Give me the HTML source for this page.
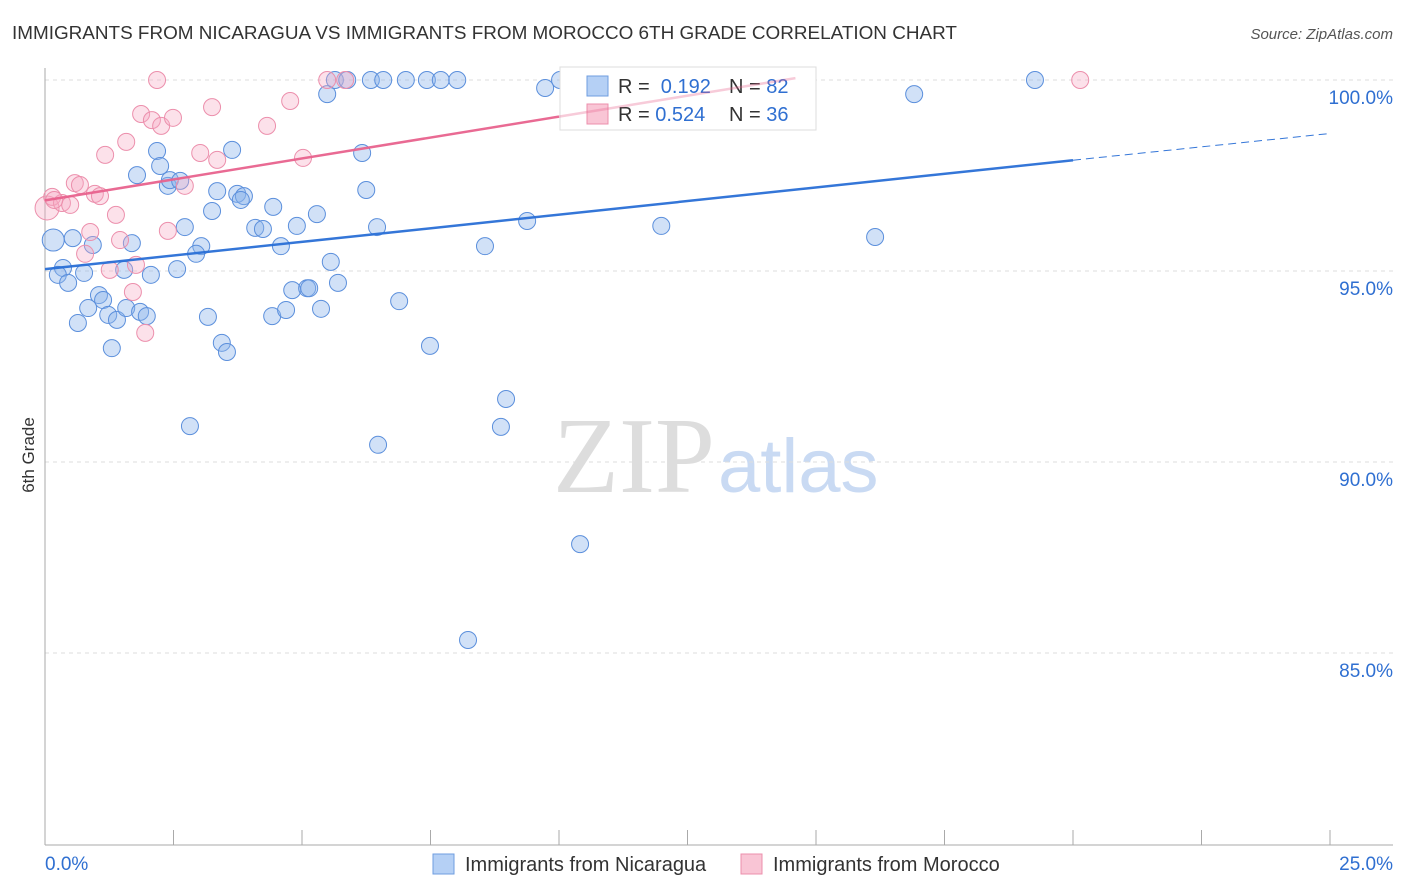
<!DOCTYPE html>
<html><head><meta charset="utf-8"><style>
body{margin:0;background:#fff;font-family:"Liberation Sans",sans-serif}
svg{display:block}
</style></head><body>
<svg id="chart" width="1406" height="892" xmlns="http://www.w3.org/2000/svg">
<text x="12" y="39" font-size="18.9" fill="#333">IMMIGRANTS FROM NICARAGUA VS IMMIGRANTS FROM MOROCCO 6TH GRADE CORRELATION CHART</text>
<text x="1393" y="39" font-size="15" fill="#555" font-style="italic" text-anchor="end">Source: ZipAtlas.com</text>
<text x="553" y="492" font-size="108" fill="#ddd" font-family="Liberation Serif,serif">ZIP</text>
<text x="718" y="492" font-size="76" fill="#c9daf3">atlas</text>
<g id="grid"></g><g id="axes"></g><g id="pts"></g>
<g>
<rect x="560" y="67" width="256" height="63" fill="#fff" stroke="#ddd"/>
<rect x="587" y="76" width="21" height="20" fill="#b5d0f5" stroke="#6f9ee0"/>
<rect x="587" y="104" width="21" height="20" fill="#f9c5d5" stroke="#ec8fac"/>
<text x="618" y="93" font-size="20" fill="#333">R = <tspan fill="#2f6fd1">&#160;0.192</tspan></text>
<text x="729" y="93" font-size="20" fill="#333">N = <tspan fill="#2f6fd1">82</tspan></text>
<text x="618" y="121" font-size="20" fill="#333">R = <tspan fill="#2f6fd1">0.524</tspan></text>
<text x="729" y="121" font-size="20" fill="#333">N = <tspan fill="#2f6fd1">36</tspan></text>
</g>
<g id="trend" opacity="0.95"></g>
<text x="0" y="0" transform="translate(34,455) rotate(-90)" font-size="17" fill="#333" text-anchor="middle">6th Grade</text>
<g><rect x="433" y="854" width="21" height="20" fill="#b5d0f5" stroke="#6f9ee0"/><text x="465" y="871" font-size="20" fill="#333">Immigrants from Nicaragua</text></g>
<g><rect x="741" y="854" width="21" height="20" fill="#f9c5d5" stroke="#ec8fac"/><text x="773" y="871" font-size="20" fill="#333">Immigrants from Morocco</text></g>
</svg>
<script>
const blueX=[0.16,0.54,0.35,0.25,0.45,0.76,0.93,1.05,1.13,0.84,0.64,1.23,1.40,1.30,1.58,1.54,1.69,1.85,1.98,2.06,1.79,2.18,2.24,2.39,2.43,2.63,2.57,2.72,2.82,3.04,2.94,3.17,3.25,3.35,3.44,3.54,3.64,3.74,3.87,3.81,4.09,4.24,4.44,4.59,4.42,4.69,4.81,5.10,5.14,4.90,5.29,5.37,5.56,5.70,5.49,5.64,5.88,6.17,6.25,6.46,6.34,6.58,7.02,7.43,7.70,8.02,6.48,6.89,7.49,8.23,8.56,8.87,8.97,9.38,9.73,10.02,10.41,11.99,16.15,16.91,19.26];
const blueY=[95.81,95.86,95.08,94.90,94.69,94.95,95.68,94.37,94.24,94.03,93.64,93.85,93.72,92.98,94.03,95.03,95.73,93.93,93.82,94.90,97.51,98.14,97.75,97.23,97.38,97.36,95.05,96.15,90.94,95.65,95.45,93.80,96.57,97.09,93.12,92.88,98.17,97.02,96.96,96.86,96.13,96.10,96.68,95.65,93.82,93.98,94.50,94.55,94.55,96.18,96.49,94.01,95.24,94.69,99.63,100,100,98.09,97.12,96.15,100,100,100,100,100,100,90.45,94.21,93.04,85.34,95.65,90.92,91.65,96.31,99.79,100,87.85,96.18,95.89,99.63,100];
const pinkX=[0.04,0.14,0.33,0.49,0.58,0.68,0.97,1.07,0.88,0.78,1.17,1.26,1.38,1.46,1.58,1.71,1.77,1.87,1.95,2.08,2.26,2.49,2.72,2.39,3.02,3.25,3.35,4.32,4.77,5.02,5.49,5.84,2.18,14.81,20.14,0.18];
const pinkY=[96.65,96.94,96.78,96.73,97.30,97.25,97.02,96.96,96.02,95.45,98.04,95.03,96.47,95.81,98.38,94.45,95.16,99.11,93.38,98.95,98.80,99.01,97.23,96.05,98.09,99.29,97.91,98.80,99.45,97.96,100,100,100,100,100,96.86];
const blueTrend=[95.05,97.9,98.6];
const pinkTrend=[96.85,100.05];
const yTicks=[100,95,90,85];
const yTickLabels=["100.0%","95.0%","90.0%","85.0%"];
const X=v=>45+v/25*1285, Y=v=>80+(100-v)*38.2;
const NS="http://www.w3.org/2000/svg";
function mk(p,t,a){const e=document.createElementNS(NS,t);for(const k in a)e.setAttribute(k,a[k]);p.appendChild(e);return e;}
const grid=document.getElementById('grid'),axes=document.getElementById('axes'),pts=document.getElementById('pts'),tr=document.getElementById('trend');
yTicks.forEach((v,i)=>{
 const l=mk(grid,'line',{x1:45,x2:1393,y1:Y(v),y2:Y(v),stroke:'#ddd','stroke-dasharray':'4,4'});
 
 
 const t=mk(axes,'text',{x:1393,y:Y(v)+24,'font-size':19,fill:'#2f6fd1','text-anchor':'end'});t.textContent=yTickLabels[i];
 
 
});
mk(axes,'line',{x1:45,x2:45,y1:68,y2:845,stroke:'#aaa'});
mk(axes,'line',{x1:45,x2:1393,y1:845,y2:845,stroke:'#aaa'});
for(let i=1;i<=10;i++){const tk=mk(axes,'line',{x1:X(i*2.5),x2:X(i*2.5),y1:830,y2:845,stroke:'#aaa'});
 
 }
let t0=mk(axes,'text',{x:45,y:870,'font-size':19,fill:'#2f6fd1'});t0.textContent='0.0%';


let t1=mk(axes,'text',{x:1393,y:870,'font-size':19,fill:'#2f6fd1','text-anchor':'end'});t1.textContent='25.0%';


blueX.forEach((v,i)=>{const c=mk(pts,'circle',{cx:X(v),cy:Y(blueY[i]),r:i==0?11:8.5,fill:'rgba(140,180,235,0.4)',stroke:'#5b8fdc','stroke-width':1});
 
 });
pinkX.forEach((v,i)=>{const c=mk(pts,'circle',{cx:X(v),cy:Y(pinkY[i]),r:i==0?12:8.5,fill:'rgba(245,170,195,0.35)',stroke:'#ec8fac','stroke-width':1});
 
 });
let b1=mk(tr,'line',{x1:X(0),y1:Y(blueTrend[0]),x2:X(20),y2:Y(blueTrend[1]),stroke:'#2a6fd6','stroke-width':2.5});


let b2=mk(tr,'line',{x1:X(20),y1:Y(blueTrend[1]),x2:X(25),y2:Y(blueTrend[2]),stroke:'#2a6fd6','stroke-width':1,'stroke-dasharray':'8,5'});


let p1=mk(tr,'line',{x1:X(0),y1:Y(pinkTrend[0]),x2:X(10),y2:Y(pinkTrend[0]+(pinkTrend[1]-pinkTrend[0])*10/14.6),stroke:'#e8638e','stroke-width':2.5});


let p2=mk(tr,'line',{x1:X(10),y1:Y(pinkTrend[0]+(pinkTrend[1]-pinkTrend[0])*10/14.6),x2:X(14.6),y2:Y(pinkTrend[1]),stroke:'#e8638e','stroke-width':2.5,opacity:0.35});


</script>
</body></html>
